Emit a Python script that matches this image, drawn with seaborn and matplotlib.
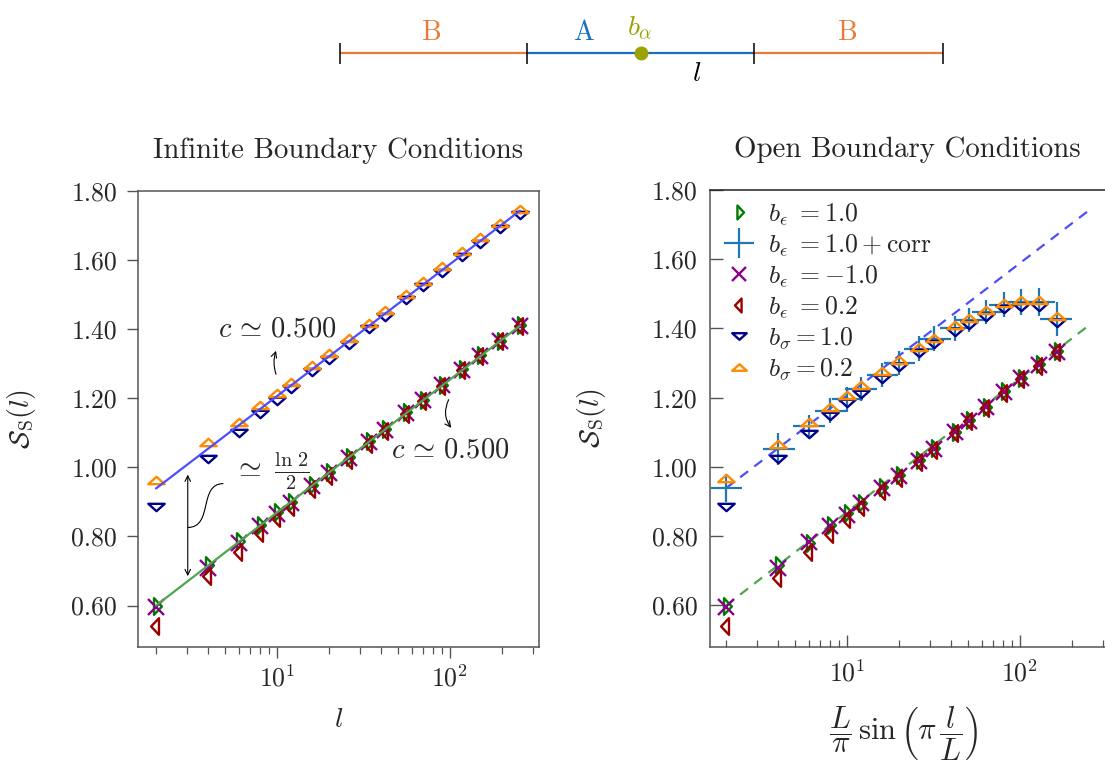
import numpy as np
import matplotlib
matplotlib.use("Agg")
import matplotlib.pyplot as plt
import seaborn as sns
from matplotlib.path import Path
from matplotlib.patches import PathPatch
from matplotlib.lines import Line2D
from matplotlib.ticker import FormatStrFormatter, LogLocator, NullFormatter, FixedLocator

# ---------------- data ----------------
l_ibc = [2, 4, 6, 8, 10, 12, 16, 20, 26, 34, 42, 56, 70, 90, 118, 150, 194, 254]
ibc_bs02 = [0.962, 1.072, 1.131, 1.180, 1.214, 1.246, 1.295, 1.332, 1.374, 1.419, 1.455, 1.503, 1.540, 1.582, 1.627, 1.667, 1.708, 1.749]
ibc_bs10 = [0.884, 1.025, 1.100, 1.154, 1.193, 1.226, 1.275, 1.312, 1.355, 1.400, 1.436, 1.484, 1.521, 1.563, 1.608, 1.648, 1.690, 1.730]
ibc_be10 = [0.600, 0.717, 0.786, 0.834, 0.871, 0.901, 0.949, 0.987, 1.031, 1.076, 1.111, 1.159, 1.196, 1.239, 1.284, 1.324, 1.367, 1.411]
ibc_bem1 = [0.596, 0.709, 0.782, 0.830, 0.866, 0.897, 0.945, 0.984, 1.028, 1.073, 1.108, 1.157, 1.194, 1.237, 1.282, 1.322, 1.365, 1.409]
ibc_be02 = [0.540, 0.685, 0.755, 0.811, 0.852, 0.885, 0.936, 0.976, 1.022, 1.069, 1.105, 1.154, 1.192, 1.236, 1.281, 1.322, 1.365, 1.410]
ibc_fit_l = [2, 254]
ibc_fit_up = [0.939, 1.743]
ibc_fit_lo = [0.600, 1.410]

x_obc = [2, 4, 6, 8, 10, 12, 16, 20, 26, 32, 42, 51, 64, 81, 102, 129, 163]
obc_be10 = [0.598, 0.717, 0.780, 0.831, 0.868, 0.897, 0.941, 0.978, 1.020, 1.054, 1.102, 1.136, 1.174, 1.218, 1.258, 1.296, 1.334]
obc_bem1 = [0.596, 0.709, 0.782, 0.830, 0.860, 0.897, 0.938, 0.975, 1.018, 1.052, 1.100, 1.134, 1.172, 1.216, 1.256, 1.294, 1.332]
obc_be02 = [0.540, 0.680, 0.755, 0.805, 0.851, 0.883, 0.931, 0.967, 1.013, 1.049, 1.098, 1.132, 1.170, 1.215, 1.255, 1.293, 1.331]
obc_bs02 = [0.967, 1.067, 1.130, 1.173, 1.209, 1.236, 1.276, 1.310, 1.347, 1.373, 1.410, 1.431, 1.453, 1.475, 1.482, 1.482, 1.437]
obc_bs10 = [0.883, 1.023, 1.096, 1.147, 1.186, 1.212, 1.255, 1.289, 1.328, 1.354, 1.390, 1.410, 1.434, 1.455, 1.463, 1.463, 1.417]
obc_corr = [0.939, 1.052, 1.117, 1.163, 1.195, 1.226, 1.265, 1.300, 1.342, 1.371, 1.400, 1.424, 1.448, 1.468, 1.477, 1.477, 1.427]
obc_corr_yerr = [0.040, 0.045, 0.034, 0.036, 0.035, 0.035, 0.035, 0.035, 0.035, 0.035, 0.035, 0.035, 0.035, 0.036, 0.038, 0.040, 0.050]
obc_corr_xlo = [0.36, 0.73, 1.1, 1.45, 1.8, 2.2, 2.9, 3.6, 4.7, 5.8, 7.6, 9.2, 11.5, 14.6, 18.4, 23.2, 32.0]
obc_corr_xhi = [0.48, 1.0, 1.45, 1.9, 2.4, 2.9, 3.8, 4.8, 6.2, 7.7, 10.0, 12.2, 15.4, 19.4, 24.5, 31.0, 36.0]
obc_fit_x = [2, 247]
obc_fit_up = [0.939, 1.739]
obc_fit_lo = [0.600, 1.407]

yticks = [0.60, 0.80, 1.00, 1.20, 1.40, 1.60, 1.80]

# ---------------- style ----------------
sns.set_style("ticks")
plt.rcParams.update({
    "font.family": ["cmr10"],
    "mathtext.fontset": "cm",
    "axes.formatter.use_mathtext": True,
    "axes.unicode_minus": False,
})

C_GREEN = "#007a00"
C_PURPLE = "#8b008b"
C_RED = "#9b0000"
C_NAVY = "#00008b"
C_ORANGE = "#ff8c00"
C_CORR = "#1f77b4"
C_FIT_UP = "#4d4dff"
C_FIT_LO = "#4da64d"
SPINE = "#555555"

TRI_UP = Path([(-1, -0.45), (1, -0.45), (0, 0.45), (-1, -0.45)], closed=True)
TRI_DOWN = Path([(-1, 0.45), (1, 0.45), (0, -0.45), (-1, 0.45)], closed=True)
TRI_RIGHT = Path([(-0.3, -1), (-0.3, 1), (0.65, 0), (-0.3, -1)], closed=True)
TRI_LEFT = Path([(0.3, -1), (0.3, 1), (-0.65, 0), (0.3, -1)], closed=True)

MS_TRI = 11.8
MS_SIDE = 12
MS_X = 11
MEW = 1.7
TICK_FS = 18.5


def pts(ax, x, y, marker, color, ms, z):
    sns.lineplot(x=x, y=y, ax=ax, marker=marker, markersize=ms,
                 markerfacecolor="none", markeredgecolor=color,
                 markeredgewidth=MEW, linestyle="", color=color,
                 zorder=z, estimator=None, sort=False)


def style_axis(ax, direction, xlim, pad_x, pad_y, ticklen):
    ax.set_xscale("log")
    ax.set_xlim(*xlim)
    ax.set_ylim(0.48, 1.80)
    ax.yaxis.set_major_locator(FixedLocator(yticks))
    ax.yaxis.set_major_formatter(FormatStrFormatter("%.2f"))
    ax.xaxis.set_major_locator(LogLocator(base=10, numticks=10))
    ax.xaxis.set_minor_locator(LogLocator(base=10, subs=np.arange(2, 10), numticks=20))
    ax.xaxis.set_minor_formatter(NullFormatter())
    ax.tick_params(axis="both", which="major", direction=direction, length=ticklen,
                   width=1.0, color=SPINE, labelsize=TICK_FS)
    ax.tick_params(axis="x", which="major", pad=pad_x)
    ax.tick_params(axis="y", which="major", pad=pad_y)
    ax.tick_params(axis="x", which="minor", direction=direction, length=ticklen * 0.6,
                   width=0.9, color=SPINE)
    ax.tick_params(axis="y", which="minor", left=False)
    for s in ax.spines.values():
        s.set_color(SPINE)
        s.set_linewidth(1.1)


fig = plt.figure(figsize=(11.05, 7.6), dpi=100)
W, H = 1105.0, 760.0
axL = fig.add_axes([138 / W, 1 - 647 / H, 400.5 / W, 456 / H])
axR = fig.add_axes([710 / W, 1 - 647 / H, 395 / W, 457 / H])

# ---------------- left panel ----------------
style_axis(axL, "out", (1.573, 324.9), pad_x=5, pad_y=7, ticklen=8)
sns.lineplot(x=ibc_fit_l, y=ibc_fit_up, ax=axL, color=C_FIT_UP, lw=1.6, zorder=5)
sns.lineplot(x=ibc_fit_l, y=ibc_fit_lo, ax=axL, color=C_FIT_LO, lw=1.6, zorder=5)
pts(axL, l_ibc, ibc_be10, TRI_RIGHT, C_GREEN, MS_SIDE, 3)
pts(axL, l_ibc, ibc_bem1, "x", C_PURPLE, MS_X, 3)
pts(axL, l_ibc, ibc_be02, TRI_LEFT, C_RED, MS_SIDE, 3)
pts(axL, l_ibc, ibc_bs10, TRI_DOWN, C_NAVY, MS_TRI, 3)
pts(axL, l_ibc, ibc_bs02, TRI_UP, C_ORANGE, MS_TRI, 4)

axL.set_title("Infinite Boundary Conditions", fontsize=20.8, pad=24)
axL.set_ylabel(r"$\mathcal{S}_{\rm S}(l)$", fontsize=20)
axL.yaxis.set_label_coords(-0.25, 0.5)
axL.set_xlabel(r"$l$", fontsize=20)
axL.xaxis.set_label_coords(0.5, -0.13)

# annotations
axL.text(10.0, 1.40, r"$c\,\simeq\,0.500$", fontsize=20.5, ha="center", va="center")
axL.annotate("", xy=(10.0, 1.345), xytext=(10.0, 1.262),
             arrowprops=dict(arrowstyle="->", lw=0.8, color="k",
                             connectionstyle="arc3,rad=-0.2"))
axL.text(100.0, 1.048, r"$c\,\simeq\,0.500$", fontsize=20.5, ha="center", va="center")
axL.annotate("", xy=(104.0, 1.108), xytext=(100.0, 1.203),
             arrowprops=dict(arrowstyle="->", lw=0.8, color="k",
                             connectionstyle="arc3,rad=0.35"))
axL.annotate("", xy=(3.05, 0.685), xytext=(3.05, 0.979),
             arrowprops=dict(arrowstyle="<->", lw=0.8, color="k", shrinkA=0, shrinkB=0))
sig = Path([(3.05, 0.826), (4.3, 0.826), (3.5, 0.953), (4.9, 0.953)],
           [Path.MOVETO, Path.CURVE4, Path.CURVE4, Path.CURVE4])
axL.add_patch(PathPatch(sig, fc="none", ec="k", lw=0.8, transform=axL.transData))
axL.text(5.6, 0.99, r"$\simeq\ \frac{\ln\,2}{2}$", fontsize=21, ha="left", va="center")

# ---------------- right panel ----------------
style_axis(axR, "in", (1.615, 310), pad_x=9, pad_y=9, ticklen=9)
axR.spines["right"].set_visible(False)
axR.spines["top"].set_color("#222222")
sns.lineplot(x=obc_fit_x, y=obc_fit_up, ax=axR, color=C_FIT_UP, lw=1.6, zorder=1,
             dashes=False, linestyle=(0, (4.5, 3.5)))
sns.lineplot(x=obc_fit_x, y=obc_fit_lo, ax=axR, color=C_FIT_LO, lw=1.6, zorder=1,
             dashes=False, linestyle=(0, (4.5, 3.5)))
pts(axR, x_obc, obc_be10, TRI_RIGHT, C_GREEN, MS_SIDE, 3)
axR.errorbar(x_obc, obc_corr, xerr=[obc_corr_xlo, obc_corr_xhi], yerr=obc_corr_yerr,
             fmt="none", ecolor=C_CORR, elinewidth=1.6, capsize=0, zorder=2)
pts(axR, x_obc, obc_bem1, "x", C_PURPLE, MS_X, 3)
pts(axR, x_obc, obc_be02, TRI_LEFT, C_RED, MS_SIDE, 3)
pts(axR, x_obc, obc_bs10, TRI_DOWN, C_NAVY, MS_TRI, 3)
pts(axR, x_obc, obc_bs02, TRI_UP, C_ORANGE, MS_TRI, 4)

axR.set_title("Open Boundary Conditions", fontsize=20.8, pad=24)
axR.set_ylabel(r"$\mathcal{S}_{\rm S}(l)$", fontsize=20)
axR.yaxis.set_label_coords(-0.258, 0.5)
axR.set_xlabel(r"$\dfrac{L}{\pi}\,\sin\left(\pi\,\dfrac{l}{L}\right)$", fontsize=22)
axR.xaxis.set_label_coords(0.49, -0.125)

def h(marker, color, ms, mew=MEW):
    return Line2D([], [], linestyle="", marker=marker, markersize=ms, markerfacecolor="none",
                  markeredgecolor=color, markeredgewidth=mew, color=color)

handles = [
    h(TRI_RIGHT, C_GREEN, 10),
    h("+", C_CORR, 22, 1.6),
    h("x", C_PURPLE, 10),
    h(TRI_LEFT, C_RED, 10),
    h(TRI_DOWN, C_NAVY, 10.5),
    h(TRI_UP, C_ORANGE, 10.5),
]
labels = [
    r"$b_\epsilon\ = 1.0$",
    r"$b_\epsilon\ = 1.0 + {\rm corr}$",
    r"$b_\epsilon\ = -1.0$",
    r"$b_\epsilon\ = 0.2$",
    r"$b_\sigma = 1.0$",
    r"$b_\sigma = 0.2$",
]
axR.legend(handles, labels, loc="upper left", bbox_to_anchor=(0.0, 1.0), frameon=False,
           fontsize=18.5, handlelength=1.35, handletextpad=0.45, labelspacing=0.2,
           borderaxespad=0.25, borderpad=0.2)

# ---------------- top diagram ----------------
diag_edges = [340, 527, 754, 943]
diag_colors = ["#ea7a35", "#1a6fc0", "#ea7a35"]
diag_labels = ["B", "A", "B"]
ax0 = fig.add_axes([0, 1 - 100 / H, 1, 100 / H])
ax0.set_xlim(0, W)
ax0.set_ylim(100, 0)
ax0.axis("off")
for i in range(3):
    ax0.plot(diag_edges[i:i + 2], [53, 53], color=diag_colors[i], lw=1.6,
             solid_capstyle="butt")
ax0.vlines(diag_edges, 43, 64, color="k", lw=1.1)
text_x = [432, 584, 848]
for xx, lab, col in zip(text_x, diag_labels, diag_colors):
    ax0.text(xx, 33, lab, color=col, fontsize=20, ha="center", va="center")
mid_A = (diag_edges[1] + diag_edges[2]) / 2
ax0.plot([mid_A], [53], "o", ms=9, color="#9aa300")
ax0.text(640, 28, r"$b_\alpha$", color="#9aa300", fontsize=20, ha="center", va="center")
ax0.text(697, 74, r"$l$", color="k", fontsize=20, ha="center", va="center")

fig.savefig("out.png", dpi=100)
